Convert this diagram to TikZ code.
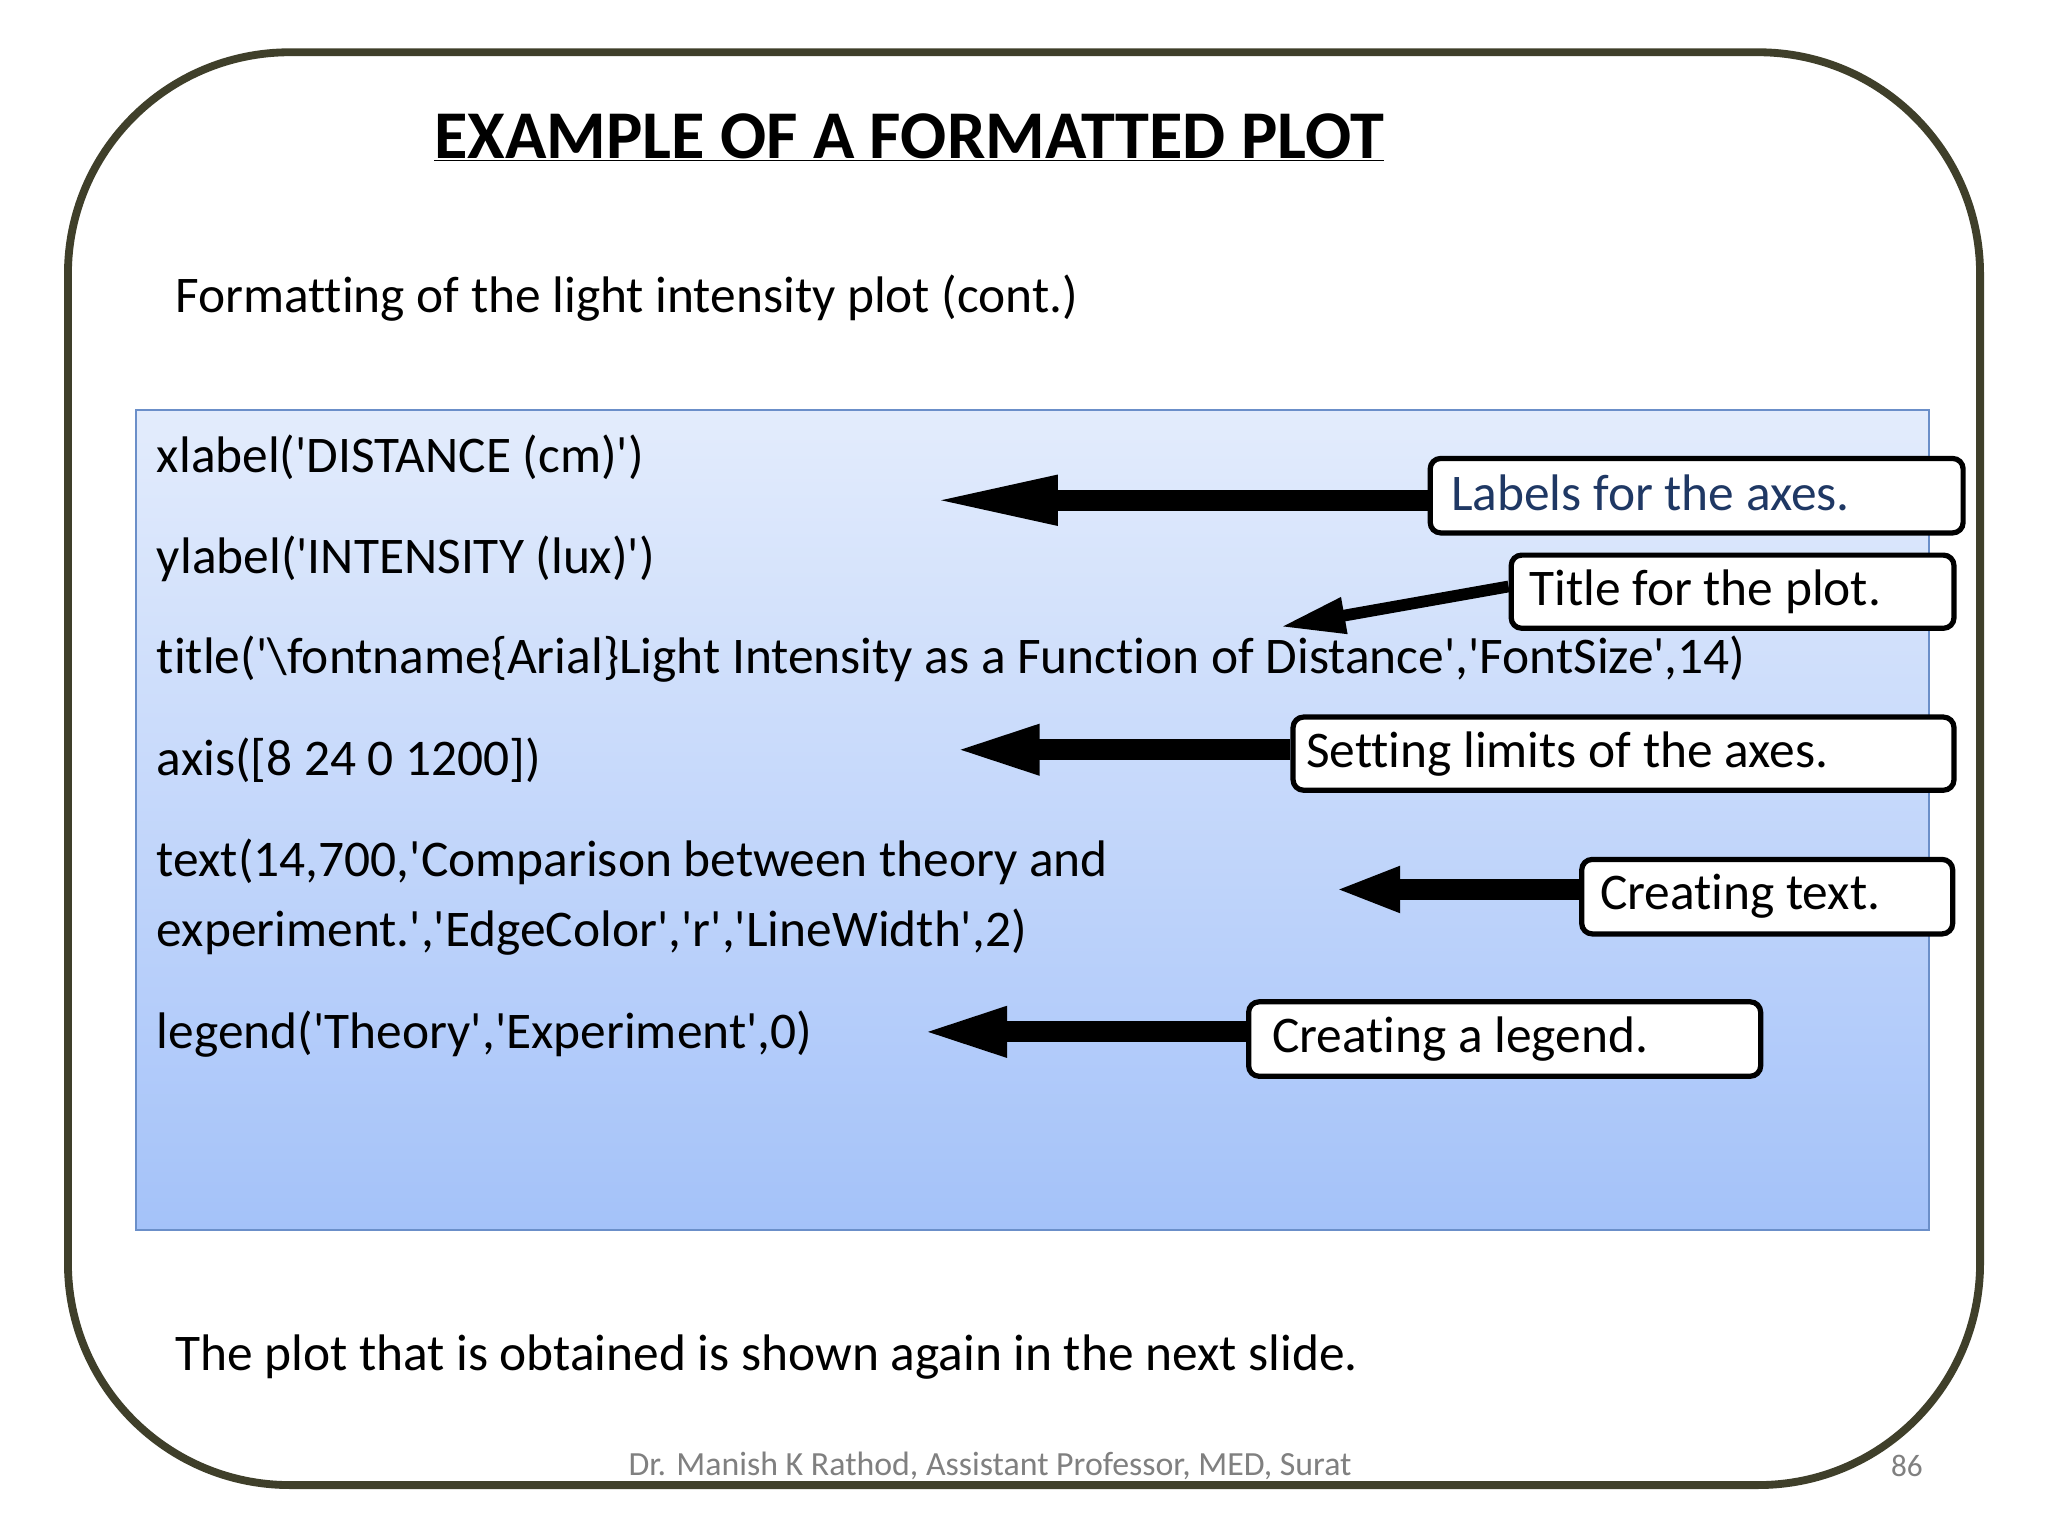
\documentclass[tikz,border=0pt]{standalone}
\usepackage{fontspec}
\setmainfont{Carlito}[Ligatures={TeXOff,NoCommon}]
\usetikzlibrary{arrows.meta}
\definecolor{frame}{HTML}{3F3F2A}
\definecolor{btop}{HTML}{E3ECFC}
\definecolor{bbot}{HTML}{A4C2F9}
\definecolor{bedge}{HTML}{6B8FC9}
\definecolor{lbl}{HTML}{1F3864}
\newcommand{\cbox}[3]{\makebox[#1][l]{\hspace*{#2}\raisebox{4bp}{#3}}}
\tikzset{
 code/.style={anchor=west,inner sep=0pt,font=\fontsize{39.5}{44}\selectfont},
 call/.style={draw,fill=white,line width=4bp,rounded corners=8bp,anchor=north west,inner sep=0pt,font=\fontsize{39.5}{44}\selectfont},
 bigarrow/.style={line width=16bp,-{Triangle[length=100bp,width=34bp]}},
}
\begin{document}
\begin{tikzpicture}[x=1bp,y=-1bp]
\useasboundingbox (0,0) rectangle (1568,1176);
\fill[white] (0,0) rectangle (1568,1176);
\draw[frame,line width=6bp,rounded corners=170bp] (52,40) rectangle (1516,1137);
\node[font=\fontsize{52.5}{58}\selectfont\bfseries] (title) at (696,105) {\underline{EXAMPLE OF A FORMATTED PLOT}};
\node[code] (sub) at (134,228) {Formatting of the light intensity plot (cont.)};
\shade[top color=btop,bottom color=bbot] (104,314) rectangle (1477,942);
\draw[bedge,line width=1.5bp] (104,314) rectangle (1477,942);
\node[code] (l1) at (120,350) {xlabel('DISTANCE (cm)')};
\node[code] (l2) at (120,428) {ylabel('INTENSITY (lux)')};
\node[code] (l3) at (120,505) {title('\textbackslash fontname\{Arial\}Light Intensity as a Function of Distance','FontSize',14)};
\node[code] (l4) at (120,582) {axis([8 24 0 1200])};
\node[code] (l5) at (120,660) {text(14,700,'Comparison between theory and};
\node[code] (l6) at (120,714) {experiment.','EdgeColor','r','LineWidth',2)};
\node[code] (l7) at (120,792) {legend('Theory','Experiment',0)};
\node[call,minimum height=57bp] (c1) at (1093,349) {\cbox{408bp}{16bp}{\textcolor{lbl}{Labels for the axes.}}};
\node[call,minimum height=56bp] (c2) at (1155,423) {\cbox{339bp}{14bp}{Title for the plot.}};
\node[call,minimum height=56bp] (c3) at (988,547) {\cbox{506bp}{10bp}{Setting limits of the axes.}};
\node[call,minimum height=57bp] (c4) at (1209,656) {\cbox{284bp}{14bp}{Creating text.}};
\node[call,minimum height=57bp] (c5) at (954,765) {\cbox{392bp}{18bp}{Creating a legend.}};
\coordinate (t1) at (710,383);
\coordinate (t2) at (980,480);
\coordinate (t3) at (728,574);
\coordinate (t4) at (1022,681);
\coordinate (t5) at (703,790);
\draw[bigarrow] (c1.west|-t1) -- (t1);
\draw[line width=9bp,-{Triangle[length=50bp,width=26bp]}] (c2.west) ++(0,-4) -- (t2);
\draw[bigarrow,-{Triangle[length=68bp,width=34bp]}] (c3.west|-t3) -- (t3);
\draw[bigarrow,-{Triangle[length=50bp,width=32bp]}] (c4.west|-t4) -- (t4);
\draw[bigarrow,-{Triangle[length=68bp,width=34bp]}] (c5.west|-t5) -- (t5);
\node[code] (foot) at (134,1039) {The plot that is obtained is shown again in the next slide.};
\node[font=\fontsize{26}{30}\selectfont,text=gray] (auth) at (758,1122) {Dr. Manish K Rathod, Assistant Professor, MED, Surat};
\node[font=\fontsize{24}{28}\selectfont,text=gray] (pg) at (1460,1122) {86};
\end{tikzpicture}
\end{document}
